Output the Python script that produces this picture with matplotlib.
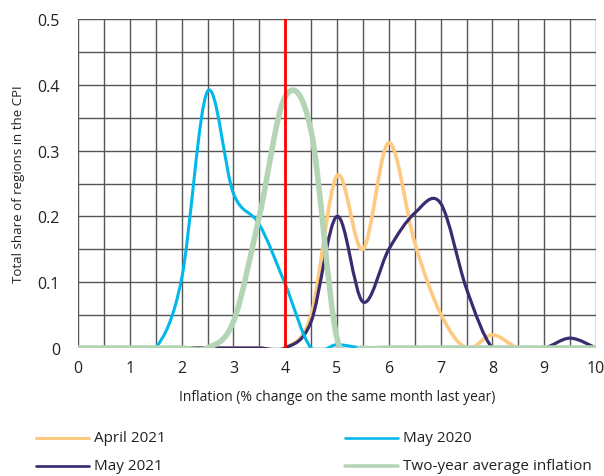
import matplotlib
matplotlib.use("Agg")
import matplotlib.pyplot as plt
from matplotlib.path import Path
from matplotlib.patches import PathPatch
from matplotlib.lines import Line2D
import numpy as np

plt.rcParams['font.family'] = ['Open Sans', 'DejaVu Sans']

x_vals = [0, 0.5, 1, 1.5, 2, 2.5, 3, 3.5, 4, 4.5, 5, 5.5, 6, 6.5, 7, 7.5, 8, 8.5, 9, 9.5, 10]
april_2021 = [0, 0, 0, 0, 0, 0, 0, 0, 0, 0.05, 0.262, 0.15, 0.312, 0.16, 0.052, 0, 0.02, 0, 0, 0, 0]
may_2020 = [0, 0, 0, 0, 0.105, 0.39, 0.235, 0.188, 0.097, 0, 0.005, 0, 0, 0, 0, 0, 0, 0, 0, 0, 0]
may_2021 = [0, 0, 0, 0, 0, 0, 0, 0, 0, 0.04, 0.2, 0.07, 0.15, 0.205, 0.22, 0.09, 0, 0, 0, 0.015, 0]
two_year = [0, 0, 0, 0, 0, 0, 0.04, 0.2, 0.382, 0.33, 0.015, 0, 0, 0, 0, 0, 0, 0, 0, 0, 0]

series = [
    ("April 2021", april_2021, "#FEC980", 2.6),
    ("May 2021", may_2021, "#3B2C72", 2.3),
    ("May 2020", may_2020, "#00B8EA", 2.2),
    ("Two-year average inflation", two_year, "#B4D4B6", 4.0),
]


def smooth_path(xs, ys):
    p = np.column_stack([xs, ys]).astype(float)
    n = len(p)
    verts = [p[0]]
    codes = [Path.MOVETO]
    for i in range(n - 1):
        p0 = p[i - 1] if i > 0 else p[i]
        p1 = p[i]
        p2 = p[i + 1]
        p3 = p[i + 2] if i + 2 < n else p[i + 1]
        c1 = p1 + (p2 - p0) / 6.0
        c2 = p2 - (p3 - p1) / 6.0
        verts += [c1, c2, p2]
        codes += [Path.CURVE4] * 3
    return Path(verts, codes)


W, H = 604, 477
fig = plt.figure(figsize=(W / 100, H / 100), dpi=100)
ax = fig.add_axes([78 / W, 128 / H, 518 / W, 329 / H])
ax.set_xlim(0, 10)
ax.set_ylim(0, 0.5)

for xv in np.arange(0, 10.01, 0.5):
    ax.axvline(xv, color="#555555", lw=1.0, zorder=1)
for yv in np.arange(0, 0.501, 0.05):
    ax.axhline(yv, color="#555555", lw=1.0, zorder=1)

styles = {}
for i, (name, ys, col, lw) in enumerate(series):
    patch = PathPatch(smooth_path(x_vals, ys), facecolor="none", edgecolor=col,
                      lw=lw, zorder=3 + i, capstyle="round", joinstyle="round")
    ax.add_patch(patch)
    styles[name] = (col, lw)

ax.plot([4, 4], [0, 0.5], color="#FF0000", lw=2.0, zorder=10)

for s in ax.spines.values():
    s.set_visible(False)
ax.tick_params(length=0, labelsize=11.5, colors="#222222")
ax.tick_params(axis="y", pad=13)
ax.tick_params(axis="x", pad=9)
ax.set_xticks(range(0, 11))
ax.set_yticks([0, 0.1, 0.2, 0.3, 0.4, 0.5])
ax.set_yticklabels(["0", "0.1", "0.2", "0.3", "0.4", "0.5"])
ax.set_xlabel("Inflation (% change on the same month last year)", fontsize=10, color="#222222", labelpad=9)
ax.set_ylabel("Total share of regions in the CPI", fontsize=9.5, color="#222222", labelpad=9)

# legend, drawn manually in pixel positions
legend_items = [
    ("April 2021", 36, 439),
    ("May 2020", 345, 439),
    ("May 2021", 36, 467),
    ("Two-year average inflation", 345, 467),
]
for name, lx, ly in legend_items:
    col, lw = styles[name]
    fig.add_artist(Line2D([lx / W, (lx + 53) / W], [1 - ly / H, 1 - ly / H],
                          color=col, lw=min(lw, 3.0) * 0.85, transform=fig.transFigure,
                          solid_capstyle="round"))
    fig.text((lx + 58) / W, 1 - ly / H, name, fontsize=11, color="#222222",
             va="center", ha="left")

fig.savefig("out.png", dpi=100)
